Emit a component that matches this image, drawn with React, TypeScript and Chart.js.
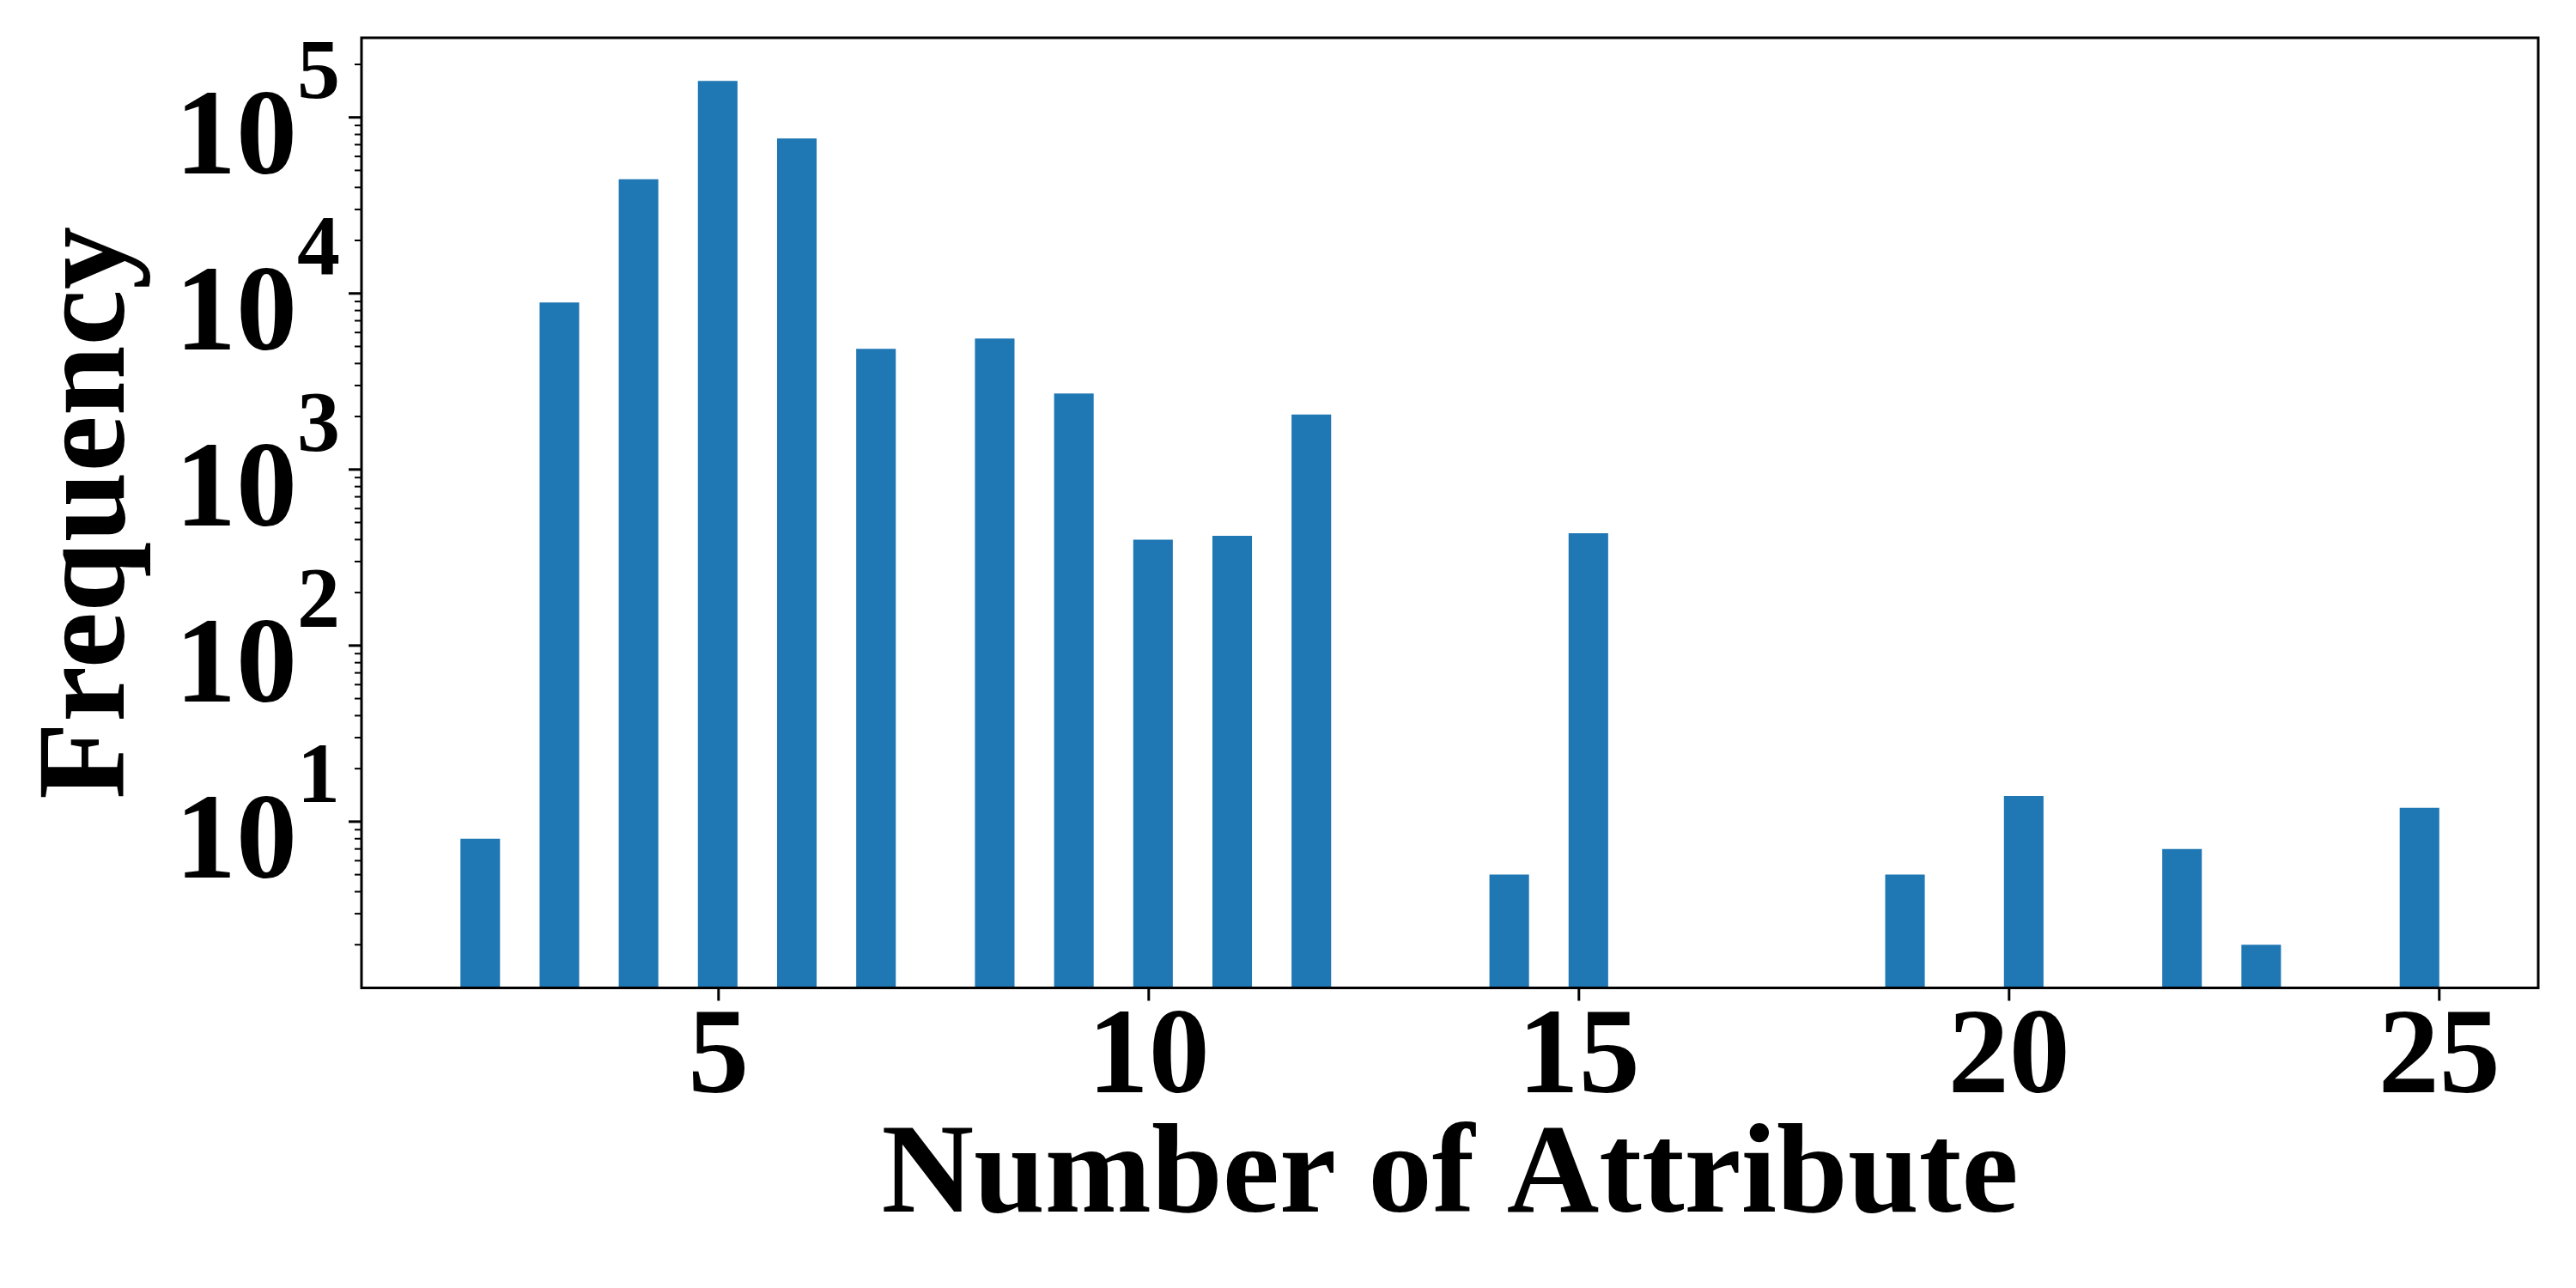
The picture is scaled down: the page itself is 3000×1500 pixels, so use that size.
import React, { useEffect, useRef } from 'react';
import { Chart, registerables } from 'chart.js';

Chart.register(...registerables);

// ---- data ----
const ATTRIBUTE_COUNTS = [2, 3, 4, 5, 6, 7, 8, 9, 10, 11, 12, 14, 15, 19, 20, 22, 23, 25];
const FREQUENCIES = [8, 8900, 44500, 161000, 76000, 4850, 5550, 2700, 400, 420, 2050, 5, 435, 5, 14, 7, 2, 12];
const X_TICKS = [5, 10, 15, 20, 25];
const Y_DECADES = [1, 2, 3, 4, 5];
const HIST_BINS = 50;
const X_TITLE = 'Number of Attribute';
const Y_TITLE = 'Frequency';

const FONT = "'Liberation Serif', 'Times New Roman', serif";
const BAR_COLOR = '#1f77b4';

// histogram binning like matplotlib's hist(bins=50)
const lo = Math.min(...ATTRIBUTE_COUNTS);
const hi = Math.max(...ATTRIBUTE_COUNTS);
const binW = (hi - lo) / HIST_BINS;
const binCenter = (v: number) => {
  const k = Math.min(Math.floor((v - lo) / binW + 1e-9), HIST_BINS - 1);
  return lo + (k + 0.5) * binW;
};
const points = ATTRIBUTE_COUNTS.map((v, i) => ({ x: binCenter(v), y: FREQUENCIES[i] }));

// autoscale margins (5%) like matplotlib
const xMin = lo - 0.05 * (hi - lo);
const xMax = hi + 0.05 * (hi - lo);
const lMin = Math.log10(Math.min(...FREQUENCIES));
const lMax = Math.log10(Math.max(...FREQUENCIES));
const yMin = Math.pow(10, lMin - 0.05 * (lMax - lMin));
const yMax = Math.pow(10, lMax + 0.05 * (lMax - lMin));

const axesPlugin = {
  id: 'mplAxes',
  afterDraw(chart: any) {
    const { ctx, chartArea: a, scales } = chart;
    const xs = scales.x;
    const ys = scales.y;
    ctx.save();
    ctx.strokeStyle = '#000';
    ctx.lineCap = 'butt';
    const line = (x1: number, y1: number, x2: number, y2: number) => {
      ctx.beginPath();
      ctx.moveTo(x1, y1);
      ctx.lineTo(x2, y2);
      ctx.stroke();
    };
    // x ticks
    ctx.lineWidth = 3;
    for (const t of X_TICKS) {
      const px = xs.getPixelForValue(t);
      line(px, a.bottom, px, a.bottom + 15);
    }
    // y ticks (major + minor)
    for (let e = -1; e <= 6; e++) {
      for (let m = 1; m <= 9; m++) {
        const v = m * Math.pow(10, e);
        if (v < yMin || v > yMax) continue;
        const py = ys.getPixelForValue(v);
        const major = m === 1;
        ctx.lineWidth = major ? 3 : 2;
        line(a.left - (major ? 15 : 8), py, a.left, py);
      }
    }
    // frame
    ctx.lineWidth = 3;
    ctx.strokeRect(a.left, a.top, a.right - a.left, a.bottom - a.top);
    // y tick labels 10^k
    ctx.fillStyle = '#000';
    ctx.textAlign = 'right';
    ctx.textBaseline = 'alphabetic';
    for (const k of Y_DECADES) {
      const py = ys.getPixelForValue(Math.pow(10, k));
      ctx.font = `bold 142px ${FONT}`;
      ctx.fillText('10', a.left - 75, py + 65);
      ctx.font = `bold 100px ${FONT}`;
      ctx.fillText(String(k), a.left - 25, py - 23);
    }
    ctx.restore();
  },
};

export default function App() {
  const ref = useRef<HTMLCanvasElement>(null);
  useEffect(() => {
    const chart = new Chart(ref.current as HTMLCanvasElement, {
      type: 'bar',
      data: {
        datasets: [
          {
            label: Y_TITLE,
            data: points,
            backgroundColor: BAR_COLOR,
            borderWidth: 0,
            categoryPercentage: 1,
            barPercentage: 0.5,
          },
        ],
      },
      options: {
        responsive: false,
        animation: false,
        devicePixelRatio: 1,
        layout: { padding: { top: 44, right: 44, left: 0, bottom: 0 } },
        plugins: { legend: { display: false }, tooltip: { enabled: false } },
        scales: {
          x: {
            type: 'linear',
            min: xMin,
            max: xMax,
            offset: false,
            grid: { display: false },
            border: { display: false },
            afterBuildTicks: (scale: any) => {
              scale.ticks = X_TICKS.map((v) => ({ value: v }));
            },
            afterFit: (scale: any) => {
              scale.height = 349.5;
            },
            ticks: {
              autoSkip: false,
              maxRotation: 0,
              padding: 6,
              color: '#000',
              font: { family: FONT, size: 142, weight: 'bold', lineHeight: 1 },
              callback: (v: any) => String(v),
            },
            title: {
              display: true,
              text: X_TITLE,
              color: '#000',
              font: { family: FONT, size: 149, weight: 'bold', lineHeight: 1 },
              padding: { top: 0, bottom: 53 },
            },
          },
          y: {
            type: 'logarithmic',
            min: yMin,
            max: yMax,
            grid: { display: false },
            border: { display: false },
            ticks: { display: false },
            afterFit: (scale: any) => {
              scale.width = 421;
            },
            title: {
              display: true,
              text: Y_TITLE,
              color: '#000',
              font: { family: FONT, size: 147, weight: 'bold', lineHeight: 1 },
              padding: { top: 33, bottom: 0 },
            },
          },
        },
      },
      plugins: [axesPlugin],
    } as any);
    return () => chart.destroy();
  }, []);
  return (
    <div style={{ position: 'fixed', left: 0, top: 0, width: 3000, height: 1500, background: '#fff' }}>
      <canvas ref={ref} width={3000} height={1500} style={{ display: 'block', width: 3000, height: 1500 }} />
    </div>
  );
}
